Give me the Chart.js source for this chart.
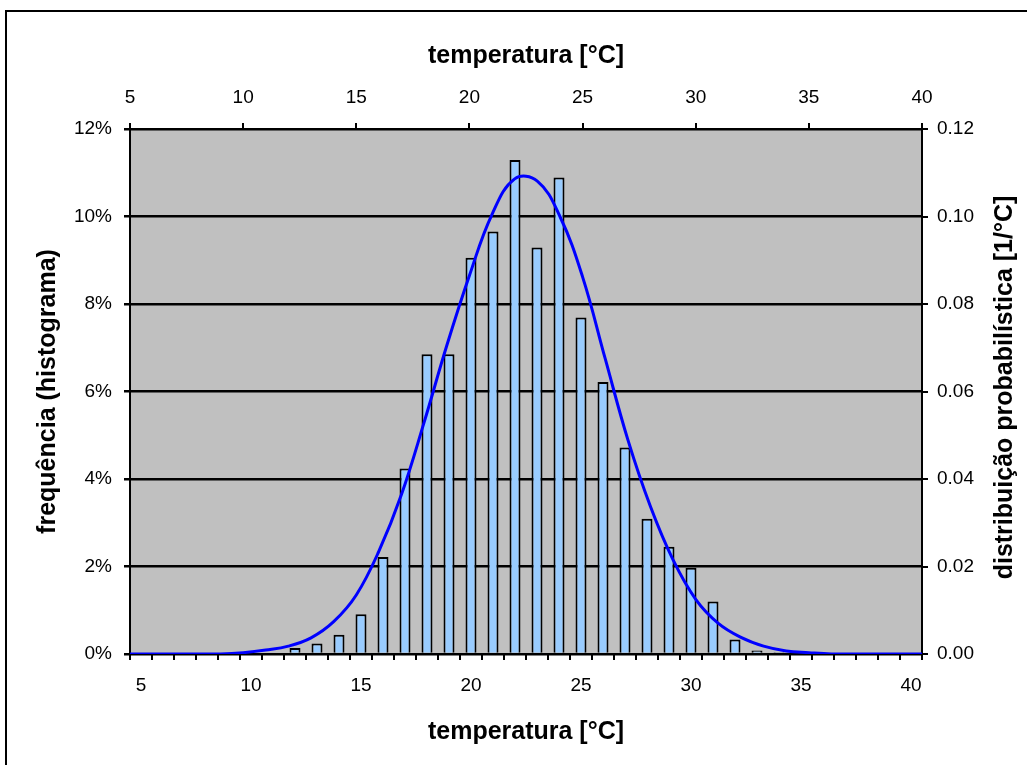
<!DOCTYPE html>
<html>
<head>
<meta charset="utf-8">
<title>temperatura</title>
<script src="https://cdn.jsdelivr.net/npm/chart.js@4.4.1/dist/chart.umd.min.js"></script>
<style>
    html, body { margin: 0; padding: 0; background: #fff; overflow: hidden; }
    #frame {
        position: absolute; left: 5px; top: 10px; width: 1100px; height: 800px;
        border-left: 2px solid #000; border-top: 2px solid #000;
    }
    #chart { position: absolute; left: 0; top: 0; }
</style>
</head>
<body>
<div id="frame"></div>
<canvas id="chart" width="1027" height="765"></canvas>
<script>
// Histogram categories (temperature classes, °C)
const temps = [5, 6, 7, 8, 9, 10, 11, 12, 13, 14, 15, 16, 17, 18, 19, 20, 21, 22,
               23, 24, 25, 26, 27, 28, 29, 30, 31, 32, 33, 34, 35, 36, 37, 38, 39, 40];

// Relative frequency per class [%]
const freqPct = [0, 0, 0, 0, 0, 0, 0, 0.14, 0.24, 0.44, 0.91, 2.22, 4.24, 6.85, 6.85, 9.06, 9.66, 11.29,
                 9.29, 10.89, 7.69, 6.22, 4.72, 3.09, 2.45, 1.97, 1.2, 0.33, 0.08, 0.04, 0, 0, 0, 0, 0, 0];

// Probability density curve [1/°C]
const pdfTemps = [5, 6, 7, 8, 9, 10, 11, 12, 13, 14, 15, 16, 17, 18, 19, 20, 21, 22,
                  23, 24, 25, 26, 27, 28, 29, 30, 31, 32, 33, 34, 35, 36, 37, 38, 39, 40];
const pdfValues = [0, 0, 0, 0, 0, 0.0003, 0.0009, 0.0018, 0.0037, 0.0074, 0.0135, 0.0235, 0.0365, 0.053,
                   0.0705, 0.0865, 0.1005, 0.1086, 0.1081, 0.1, 0.0862, 0.0675, 0.049, 0.0337, 0.0215,
                   0.0125, 0.007, 0.0038, 0.0018, 0.0007, 0.0003, 0, 0, 0, 0, 0];

// Tick settings
const topTicks = [5, 10, 15, 20, 25, 30, 35, 40];
const leftTicks = [0, 2, 4, 6, 8, 10, 12];
const rightTicks = [0, 0.02, 0.04, 0.06, 0.08, 0.10, 0.12];

const X_TITLE = 'temperatura [°C]';
const Y_TITLE = 'frequência (histograma)';
const Y2_TITLE = 'distribuição probabilística [1/°C]';

const FONT = "'Liberation Sans', Arial, sans-serif";
Chart.defaults.font.family = FONT;
Chart.defaults.color = '#000';

// Gray plot background
const plotBackground = {
    id: 'plotBackground',
    beforeDraw(chart) {
        const { ctx, chartArea } = chart;
        ctx.save();
        ctx.fillStyle = '#c0c0c0';
        ctx.fillRect(chartArea.left, chartArea.top, chartArea.width, chartArea.height);
        ctx.restore();
    }
};

// Right axis title reads bottom-to-top like the left one
const rightTitle = {
    id: 'rightTitle',
    afterDraw(chart) {
        const { ctx, chartArea } = chart;
        const s = chart.scales.y2;
        ctx.save();
        ctx.font = 'bold 25px ' + FONT;
        ctx.fillStyle = '#000';
        ctx.textAlign = 'center';
        ctx.textBaseline = 'middle';
        ctx.translate(s.right - 22, (chartArea.top + chartArea.bottom) / 2 - 4);
        ctx.rotate(-Math.PI / 2);
        ctx.fillText(Y2_TITLE, 0, 0);
        ctx.restore();
    }
};

const tickFont = { size: 19 };
const titleFont = { size: 25, weight: 'bold' };

new Chart(document.getElementById('chart'), {
    data: {
        labels: temps,
        datasets: [
            {
                type: 'line',
                data: pdfTemps.map((t, i) => ({ x: t, y: pdfValues[i] })),
                xAxisID: 'x2',
                yAxisID: 'y2',
                borderColor: '#0000ff',
                borderWidth: 3,
                pointRadius: 0,
                tension: 0.4,
                fill: false,
                order: 0
            },
            {
                type: 'bar',
                data: freqPct,
                xAxisID: 'x',
                yAxisID: 'y',
                backgroundColor: '#99ccff',
                borderColor: '#000',
                borderWidth: 2,
                grouped: false,
                barPercentage: 0.5,
                categoryPercentage: 1,
                order: 1
            }
        ]
    },
    options: {
        responsive: false,
        animation: false,
        devicePixelRatio: 1,
        layout: { padding: 0 },
        plugins: {
            legend: { display: false },
            tooltip: { enabled: false }
        },
        scales: {
            x: {
                type: 'category',
                position: 'bottom',
                offset: true,
                afterFit: s => { s.height = 111; },
                border: { color: '#000', width: 2 },
                grid: { offset: true, drawOnChartArea: false, color: '#000', lineWidth: 2, tickLength: 6 },
                ticks: {
                    autoSkip: false,
                    maxRotation: 0,
                    font: tickFont,
                    padding: 14,
                    callback: function (v) {
                        const t = this.getLabelForValue(v);
                        return t % 5 === 0 ? t : '';
                    }
                },
                title: { display: true, text: X_TITLE, font: titleFont, padding: { top: 0, bottom: 18 } }
            },
            x2: {
                type: 'linear',
                position: 'top',
                min: 5,
                max: 40,
                offset: false,
                afterFit: s => { s.height = 129; },
                afterBuildTicks: s => { s.ticks = topTicks.map(v => ({ value: v })); },
                border: { color: '#000', width: 2 },
                grid: { offset: false, drawOnChartArea: false, color: '#000', lineWidth: 2, tickLength: 6 },
                ticks: { font: tickFont, padding: 14 },
                title: { display: true, text: X_TITLE, font: titleFont, padding: { top: 41, bottom: 0 } }
            },
            y: {
                type: 'linear',
                position: 'left',
                min: 0,
                max: 12,
                afterFit: s => { s.width = 130; },
                afterBuildTicks: s => { s.ticks = leftTicks.map(v => ({ value: v })); },
                border: { color: '#000', width: 2 },
                grid: { color: '#000', lineWidth: 2.5, tickLength: 6 },
                ticks: { font: tickFont, padding: 12, callback: v => v + '%' },
                title: { display: true, text: Y_TITLE, font: titleFont, padding: { top: 33, bottom: 0 } }
            },
            y2: {
                type: 'linear',
                position: 'right',
                min: 0,
                max: 0.12,
                afterFit: s => { s.width = 105; },
                afterBuildTicks: s => { s.ticks = rightTicks.map(v => ({ value: v })); },
                border: { color: '#000', width: 2 },
                grid: { drawOnChartArea: false, color: '#000', lineWidth: 2, tickLength: 6 },
                ticks: { font: tickFont, padding: 9, callback: v => v.toFixed(2) }
            }
        }
    },
    plugins: [plotBackground, rightTitle]
});
</script>
</body>
</html>
